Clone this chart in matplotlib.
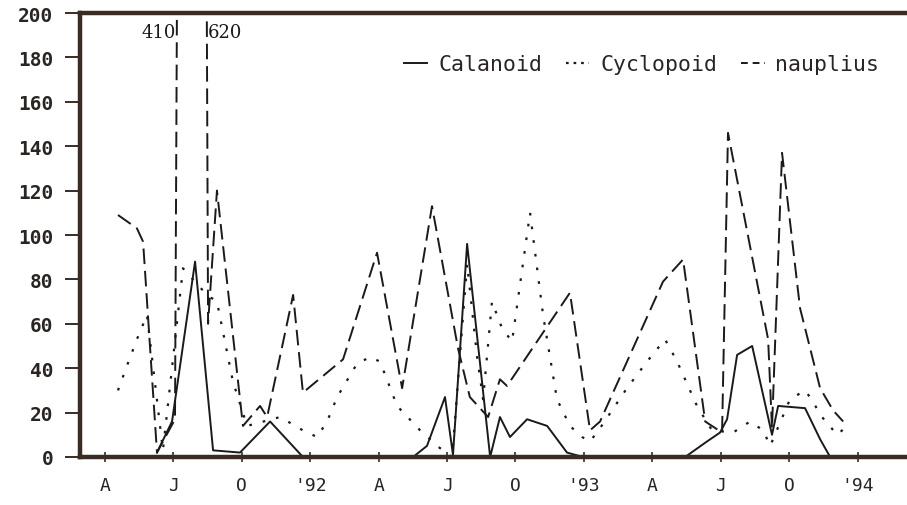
import matplotlib
matplotlib.use("Agg")
import matplotlib.pyplot as plt

# Eixo x em meses contados a partir de abril/1991 (A = 0)
mes_calanoid = [2.28, 2.94, 3.95, 4.74, 5.92, 7.24, 8.68, 13.51, 14.12, 14.91,
                15.26, 15.88, 16.89, 17.32, 17.76, 18.51, 19.39, 20.26, 20.96,
                25.44, 26.40, 26.97, 27.28, 27.72, 28.38, 29.25, 29.52, 30.70,
                31.36, 31.80, 32.24]
calanoid = [2, 16, 88, 3, 2, 16, 0, 0, 5, 27,
            1, 96, 0, 18, 9, 17, 14, 2, 0,
            0, 7, 11, 17, 46, 50, 10, 23, 22,
            8, 0, 0]

mes_cyclopoid = [0.57, 0.96, 1.40, 1.84, 2.54, 3.42, 4.47, 4.91, 5.61, 6.23,
                 7.68, 8.68, 9.30, 9.74, 10.18, 11.05, 11.62, 12.06, 12.81,
                 13.82, 14.69, 15.22, 15.88, 16.32, 16.58, 16.97, 17.41, 17.85,
                 18.64, 19.21, 19.82, 20.39, 20.92, 21.27, 21.71, 22.89, 23.77,
                 24.56, 25.09, 25.96, 26.62, 27.54, 28.29, 28.86, 29.17, 30.04,
                 30.70, 31.05, 31.36, 32.11, 32.54]
cyclopoid = [30, 41, 53, 64, 3, 85, 73, 70, 34, 14,
             18, 12, 9, 16, 27, 42, 45, 43, 23,
             12, 4, 0, 87, 45, 26, 70, 58, 52,
             110, 64, 26, 14, 9, 7, 13, 31, 43,
             53, 43, 23, 12, 11, 16, 12, 5, 26,
             30, 25, 19, 10, 14]

mes_nauplius = [0.57, 1.40, 1.67, 2.28, 3.07, 3.25, 4.30, 4.52, 4.91, 6.05,
                6.80, 7.11, 8.25, 8.68, 10.44, 11.93, 13.03, 14.34, 15.48,
                16.00, 16.80, 17.32, 17.63, 20.39, 21.27, 21.71, 24.47, 25.35,
                26.32, 27.06, 27.32, 29.08, 29.25, 29.69, 30.48, 31.36, 31.93,
                32.37]
nauplius = [109, 103, 97, 2, 17, 410, 620, 60, 120, 14,
            23, 18, 73, 29, 44, 92, 31, 113, 49,
            27, 18, 35, 32, 74, 12, 16, 79, 89,
            16, 11, 146, 53, 13, 137, 67, 31, 21,
            16]

posicoes = [0, 3, 6, 9, 12, 15, 18, 21, 24, 27, 30, 33]
rotulos_x = ["A", "J", "O", "'92", "A", "J", "O", "'93", "A", "J", "O", "'94"]
marcas_y = [0, 20, 40, 60, 80, 100, 120, 140, 160, 180, 200]
rotulos_y = [str(v) for v in marcas_y]

# picos fora da escala (anotados no topo)
picos = [(3.25, 410), (4.30, 620)]

cor_linha = "#1c1a18"
cor_eixo = "#3a2c24"

fig = plt.figure(figsize=(9.07, 5.06), dpi=100)
ax = fig.add_axes([80 / 907, 48 / 506, 827 / 907, 444 / 506])

ax.plot(mes_calanoid, calanoid, color=cor_linha, lw=1.4, ls="-", label="Calanoid")
ax.plot(mes_cyclopoid, cyclopoid, color=cor_linha, lw=1.6, ls=(0, (1.2, 5.0)),
        label="Cyclopoid")
ax.plot(mes_nauplius, nauplius, color=cor_linha, lw=1.4, ls=(0, (8, 3.5)),
        label="nauplius")

ax.set_xlim(-1.096, 35.17)
ax.set_ylim(0, 200)

for s in ["left", "bottom", "top"]:
    ax.spines[s].set_linewidth(3.2)
    ax.spines[s].set_color(cor_eixo)
ax.spines["right"].set_visible(False)

ax.set_yticks(marcas_y)
ax.set_yticklabels(rotulos_y, fontfamily="DejaVu Sans Mono", fontweight="bold",
                   fontsize=14)
ax.tick_params(axis="y", direction="out", length=11, width=1.4, color=cor_eixo,
               pad=8, labelcolor="#2a2522")

ax.set_xticks(posicoes)
ax.set_xticklabels(rotulos_x, fontfamily="DejaVu Sans Mono", fontsize=13)
ax.tick_params(axis="x", direction="inout", length=7, width=1.2, color=cor_eixo,
               pad=10, labelcolor="#2a2522")

# valores dos picos de nauplius que passam de 200
ax.text(picos[0][0] - 0.15, 191.5, str(picos[0][1]), ha="right", va="center",
        fontfamily="DejaVu Serif", fontsize=13, color=cor_linha)
ax.text(picos[1][0] + 0.2, 191.5, str(picos[1][1]), ha="left", va="center",
        fontfamily="DejaVu Serif", fontsize=13, color=cor_linha)

leg = ax.legend(ncol=3, loc="center right", bbox_to_anchor=(0.99, 0.885),
                frameon=False, handlelength=1.1, handletextpad=0.5,
                columnspacing=1.1, prop={"family": "DejaVu Sans Mono", "size": 15.5})
for t in leg.get_texts():
    t.set_color("#2a2522")
# tracejados mais curtos na legenda para caber "···" e "--"
linhas_leg = leg.get_lines()
linhas_leg[1].set_linestyle((0, (1.2, 2.2)))
linhas_leg[2].set_linestyle((0, (3.5, 2.5)))

fig.savefig("out.png", dpi=100)
